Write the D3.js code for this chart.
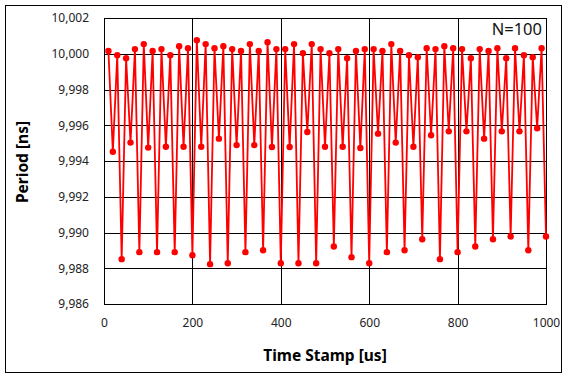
<!DOCTYPE html>
<html>
<head>
<meta charset="utf-8">
<script src="https://cdn.jsdelivr.net/npm/d3@7"></script>
<style>
  body { margin: 0; background: #fff; }
  text { font-family: "Noto Sans", sans-serif; }
</style>
</head>
<body>
<div id="chart"></div>
<script>
// time stamps in us, one sample every 10 us
const timeStamps = d3.range(1, 101).map(i => i * 10);

const periods = [
  10.00015, 9.99452, 9.99992, 9.98851, 9.99975, 9.99503, 10.00026, 9.98890, 10.00054, 9.99475,
  10.00015, 9.98890, 10.00026, 9.99480, 9.99992, 9.98890, 10.00042, 9.99480, 10.00031, 9.98873,
  10.00076, 9.99480, 10.00054, 9.98823, 10.00031, 9.99525, 10.00042, 9.98828, 10.00026, 9.99489,
  10.00015, 9.98890, 10.00054, 9.99489, 10.00015, 9.98901, 10.00065, 9.99478, 10.00026, 9.98828,
  10.00026, 9.99478, 10.00054, 9.98828, 10.00003, 9.99562, 10.00054, 9.98828, 10.00026, 9.99480,
  10.00003, 9.98922, 10.00026, 9.99480, 9.99975, 9.98862, 10.00015, 9.99473, 10.00026, 9.98828,
  10.00026, 9.99553, 10.00015, 9.98890, 10.00054, 9.99503, 10.00015, 9.98901, 9.99992, 9.99480,
  9.99981, 9.98962, 10.00031, 9.99544, 10.00026, 9.98851, 10.00042, 9.99566, 10.00031, 9.98890,
  10.00026, 9.99566, 9.99975, 9.98922, 10.00026, 9.99525, 10.00015, 9.98962, 10.00031, 9.99566,
  9.99975, 9.98978, 10.00031, 9.99566, 9.99992, 9.98901, 9.99981, 9.99583, 10.00031, 9.98978
];

const xTicks = [0, 200, 400, 600, 800, 1000];
const yTicks = [9.986, 9.988, 9.990, 9.992, 9.994, 9.996, 9.998, 10.000, 10.002];
const label = 'N=100';

const width = 568;
const height = 378;
const plotLeft = 104, plotRight = 546, plotTop = 18, plotBottom = 304;

const svg = d3.select('#chart')
    .append('svg')
    .attr('width', width)
    .attr('height', height);

// outer chart frame
svg.append('rect')
    .attr('x', 5.5)
    .attr('y', 5.5)
    .attr('width', 556)
    .attr('height', 367)
    .attr('fill', 'none')
    .attr('stroke', '#000')
    .attr('stroke-width', 1);

const x = d3.scaleLinear()
    .domain([0, 1000])
    .range([plotLeft, plotRight]);

const y = d3.scaleLinear()
    .domain([9.986, 10.002])
    .range([plotBottom, plotTop]);

// numbers use a decimal comma
const locale = d3.formatLocale({ decimal: ',', thousands: '.', grouping: [3], currency: ['', ''] });
const yFormat = locale.format('.3f');

// grid lines
svg.append('g')
    .selectAll('line')
    .data(yTicks)
    .enter()
        .append('line')
        .attr('x1', plotLeft)
        .attr('x2', plotRight)
        .attr('y1', d => Math.round(y(d)) + 0.5)
        .attr('y2', d => Math.round(y(d)) + 0.5)
        .attr('stroke', '#000');

svg.append('g')
    .selectAll('line')
    .data(xTicks)
    .enter()
        .append('line')
        .attr('x1', d => Math.round(x(d)) + 0.5)
        .attr('x2', d => Math.round(x(d)) + 0.5)
        .attr('y1', plotTop)
        .attr('y2', plotBottom)
        .attr('stroke', '#000');

svg.append('rect')
    .attr('x', plotLeft + 0.5)
    .attr('y', plotTop + 0.5)
    .attr('width', plotRight - plotLeft)
    .attr('height', plotBottom - plotTop)
    .attr('fill', 'none')
    .attr('stroke', '#000');

// axes (labels only)
const yAxis = d3.axisLeft(y)
    .tickValues(yTicks)
    .tickFormat(yFormat)
    .tickSize(0)
    .tickPadding(15);

const xAxis = d3.axisBottom(x)
    .tickValues(xTicks)
    .tickFormat(d3.format('d'))
    .tickSize(0)
    .tickPadding(14);

const gy = svg.append('g')
    .attr('transform', `translate(${plotLeft}, 0)`)
    .call(yAxis);

const gx = svg.append('g')
    .attr('transform', `translate(0, ${plotBottom})`)
    .call(xAxis);

[gx, gy].forEach(g => {
    g.select('.domain').remove();
    g.selectAll('text')
        .attr('font-family', '"Noto Sans", sans-serif')
        .attr('font-size', 12)
        .attr('fill', '#222');
});

// series
const points = timeStamps.map((t, i) => ({ t: t, p: periods[i] }));

const line = d3.line()
    .x(d => x(d.t))
    .y(d => y(d.p));

svg.append('path')
    .datum(points)
    .attr('d', line)
    .attr('fill', 'none')
    .attr('stroke', '#ff0000')
    .attr('stroke-width', 1.8);

svg.append('g')
    .selectAll('circle')
    .data(points)
    .enter()
        .append('circle')
        .attr('cx', d => x(d.t))
        .attr('cy', d => y(d.p))
        .attr('r', 3.2)
        .attr('fill', '#ff0000');

// titles
svg.append('text')
    .attr('x', 325)
    .attr('y', 361)
    .attr('text-anchor', 'middle')
    .attr('font-size', 15.5)
    .attr('font-weight', 'bold')
    .text('Time Stamp [us]');

svg.append('text')
    .attr('transform', 'translate(28, 162) rotate(-90)')
    .attr('text-anchor', 'middle')
    .attr('font-size', 15.5)
    .attr('font-weight', 'bold')
    .text('Period [ns]');

svg.append('text')
    .attr('x', 542)
    .attr('y', 35)
    .attr('text-anchor', 'end')
    .attr('font-size', 16.5)
    .attr('fill', '#111')
    .text(label);
</script>
</body>
</html>
